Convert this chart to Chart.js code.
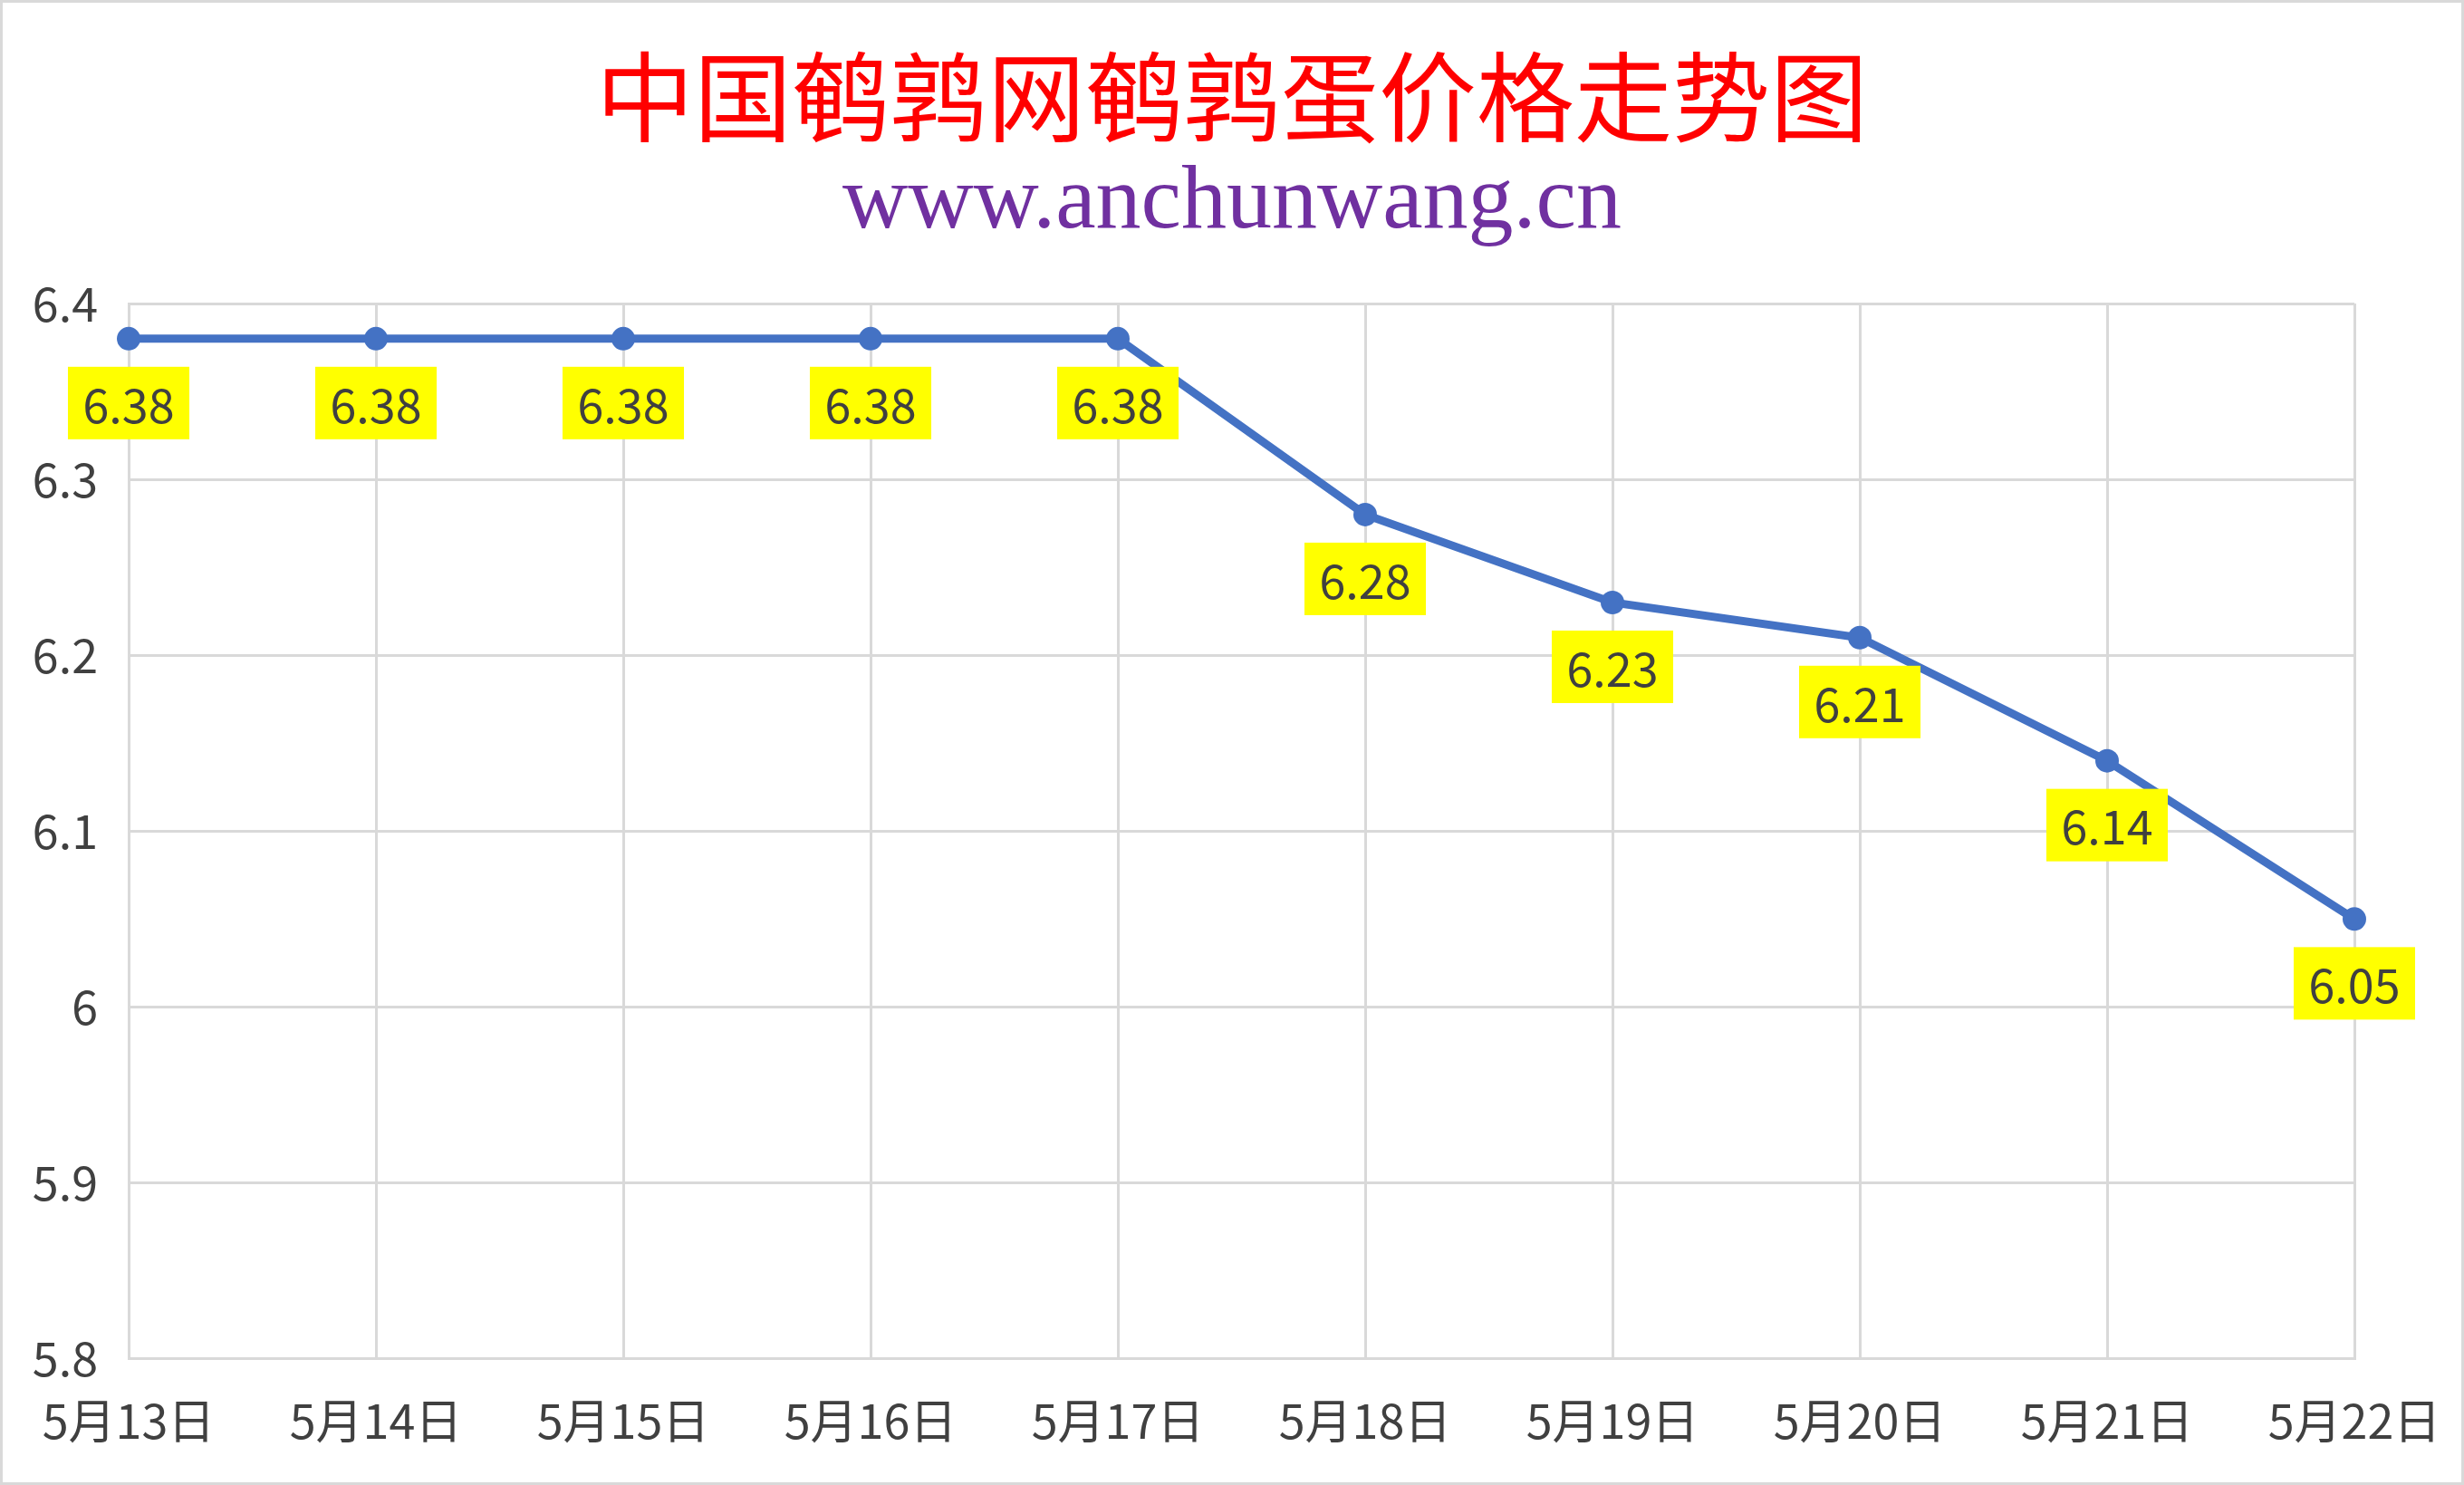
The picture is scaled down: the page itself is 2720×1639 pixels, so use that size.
<!DOCTYPE html>
<html>
<head>
<meta charset="utf-8">
<script src="https://cdn.jsdelivr.net/npm/chart.js@4.4.1/dist/chart.umd.min.js"></script>
<style>
  html, body { margin: 0; padding: 0; background: #fff; }
  #wrap { width: 2720px; height: 1639px; box-sizing: border-box; border: 3px solid #d9d9d9; }
  canvas { display: block; }
</style>
</head>
<body>
<div id="wrap"><canvas id="priceChart" width="2714" height="1633"></canvas></div>
<script>
// data
const dates = ["5月13日", "5月14日", "5月15日", "5月16日", "5月17日", "5月18日", "5月19日", "5月20日", "5月21日", "5月22日"]
const prices = [6.38, 6.38, 6.38, 6.38, 6.38, 6.28, 6.23, 6.21, 6.14, 6.05]
const yTicks = [5.8, 5.9, 6, 6.1, 6.2, 6.3, 6.4]
const titleText = "中国鹌鹑网鹌鹑蛋价格走势图"
const siteText = "www.anchunwang.cn"

const TEXT_FONT = '"Noto Sans CJK SC", "Noto Sans", sans-serif'
const GRID = "#d9d9d9"

// title + site line, centred on the whole canvas (plot area is not centred)
const pageTitles = {
  id: "pageTitles",
  afterDraw(chart) {
    const ctx = chart.ctx
    const cx = chart.width / 2
    ctx.save()
    ctx.textAlign = "center"
    ctx.textBaseline = "middle"
    ctx.fillStyle = "#FF0000"
    ctx.font = "108px " + TEXT_FONT
    ctx.fillText(titleText, cx, 104)
    ctx.fillStyle = "#7030A0"
    ctx.font = '100px "Liberation Serif", "DejaVu Serif", serif'
    ctx.fillText(siteText, cx, 222)
    ctx.restore()
  }
}

// yellow value boxes under each point
const valueLabels = {
  id: "valueLabels",
  afterDatasetsDraw(chart) {
    const ctx = chart.ctx
    const meta = chart.getDatasetMeta(0)
    ctx.save()
    ctx.font = "52px " + TEXT_FONT
    ctx.textAlign = "center"
    ctx.textBaseline = "middle"
    meta.data.forEach((pt, i) => {
      const txt = prices[i].toFixed(2)
      const w = ctx.measureText(txt).width + 33
      const h = 80
      const cx = pt.x
      const cy = pt.y + 71
      ctx.fillStyle = "#FFFF00"
      ctx.fillRect(cx - w / 2, cy - h / 2, w, h)
      ctx.fillStyle = "#404040"
      ctx.fillText(txt, cx, cy + 2)
    })
    ctx.restore()
  }
}

const ctx = document.getElementById("priceChart").getContext("2d")

new Chart(ctx, {
  type: "line",
  data: {
    labels: dates,
    datasets: [{
      data: prices,
      borderColor: "#4472C4",
      backgroundColor: "#4472C4",
      borderWidth: 9,
      pointRadius: 13,
      pointHoverRadius: 13,
      pointBorderWidth: 0,
      tension: 0,
      fill: false
    }]
  },
  options: {
    responsive: false,
    devicePixelRatio: 1,
    animation: false,
    layout: {
      padding: { left: 0, right: 118, top: 332, bottom: 0 }
    },
    plugins: {
      legend: { display: false },
      tooltip: { enabled: false },
      title: { display: false }
    },
    scales: {
      x: {
        offset: false,
        afterFit(scale) {
          // end labels may hang into the layout padding
          scale.paddingLeft = 0
          scale.paddingRight = 0
        },
        grid: { color: GRID, lineWidth: 3, drawTicks: false },
        border: { color: GRID, width: 3 },
        ticks: {
          color: "#404040",
          font: { family: TEXT_FONT, size: 52 },
          padding: 37,
          maxRotation: 0,
          autoSkip: false
        }
      },
      y: {
        min: yTicks[0],
        max: yTicks[yTicks.length - 1],
        afterBuildTicks(scale) {
          scale.ticks = yTicks.map(v => ({ value: v }))
        },
        afterFit(scale) {
          scale.width = 139
        },
        grid: { color: GRID, lineWidth: 3, drawTicks: false },
        border: { color: GRID, width: 3 },
        ticks: {
          color: "#404040",
          font: { family: TEXT_FONT, size: 52 },
          padding: 34,
          callback: v => String(Number(v.toFixed(1)))
        }
      }
    }
  },
  plugins: [valueLabels, pageTitles]
})
</script>
</body>
</html>
